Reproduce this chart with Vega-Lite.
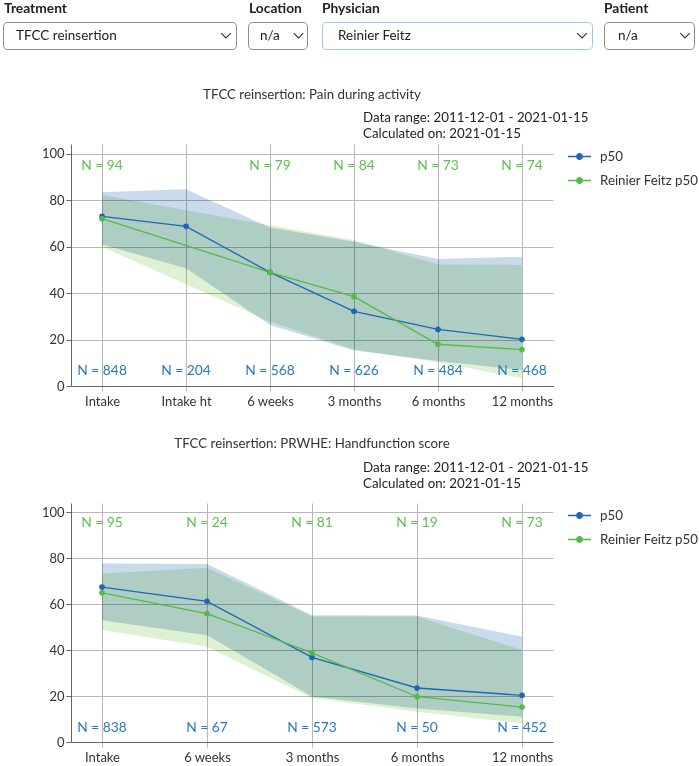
{
  "$schema": "https://vega.github.io/schema/vega-lite/v6.json",
  "background": "white",
  "padding": 0,
  "bounds": "flush",
  "spacing": 117,
  "config": {
    "font": "Lato",
    "view": {"stroke": null},
    "axis": {"labelFont": "Lato", "labelFontSize": 13, "labelColor": "#333333", "gridColor": "#b8b8b8", "tickColor": "#b8b8b8", "domainColor": "#666666", "tickSize": 5},
    "title": {"font": "Lato", "fontSize": 13.3, "fontWeight": "normal", "color": "#333333"},
    "text": {"font": "Lato", "fontSize": 13.3},
    "legend": {"labelFont": "Lato", "labelFontSize": 13.3, "labelColor": "#333333"}
  },
  "resolve": {"scale": {"color": "independent"}},
  "vconcat": [
    {
      "width": 628,
      "height": 27,
      "layer": [
        {
          "data": {"values": [{"region": "page"}]},
          "mark": {"type": "rect", "fill": "white"},
          "encoding": {
            "x": {"datum": 0, "type": "quantitative", "scale": {"domain": [71, 699], "nice": false, "zero": false}, "axis": null},
            "x2": {"datum": 699},
            "y": {"datum": 0, "type": "quantitative", "scale": {"domain": [0, 27], "nice": false, "zero": false, "reverse": true}, "axis": null},
            "y2": {"datum": 60}
          }
        },
        {
          "data": {"values": [{"label": "Treatment", "selected": "TFCC reinsertion"}]},
          "layer": [
            {"mark": {"type": "rect", "fill": "white", "stroke": "#8c8c8c", "strokeWidth": 1, "cornerRadius": 4},
             "encoding": {"x": {"datum": 3.5, "axis": null}, "x2": {"datum": 236.5}, "y": {"datum": 22.5, "axis": null}, "y2": {"datum": 49.5}}},
            {"mark": {"type": "text", "align": "left", "baseline": "middle", "fontWeight": "bold", "fontSize": 13.8, "color": "#222222"},
             "encoding": {"x": {"datum": 4, "axis": null}, "y": {"datum": 9, "axis": null}, "text": {"field": "label"}}},
            {"mark": {"type": "text", "align": "left", "baseline": "middle", "fontSize": 13.5, "color": "#222222"},
             "encoding": {"x": {"datum": 16, "axis": null}, "y": {"datum": 36, "axis": null}, "text": {"field": "selected"}}},
            {"mark": {"type": "point", "shape": "M-1,-0.5L0,0.5L1,-0.5", "size": 90, "filled": false, "stroke": "#333333", "strokeWidth": 1.1, "opacity": 1},
             "encoding": {"x": {"datum": 226, "axis": null}, "y": {"datum": 35.5, "axis": null}}}
          ]
        },
        {
          "data": {"values": [{"label": "Location", "selected": "n/a"}]},
          "layer": [
            {"mark": {"type": "rect", "fill": "white", "stroke": "#8c8c8c", "strokeWidth": 1, "cornerRadius": 4},
             "encoding": {"x": {"datum": 248.5, "axis": null}, "x2": {"datum": 307.5}, "y": {"datum": 22.5, "axis": null}, "y2": {"datum": 49.5}}},
            {"mark": {"type": "text", "align": "left", "baseline": "middle", "fontWeight": "bold", "fontSize": 13.8, "color": "#222222"},
             "encoding": {"x": {"datum": 249, "axis": null}, "y": {"datum": 9, "axis": null}, "text": {"field": "label"}}},
            {"mark": {"type": "text", "align": "left", "baseline": "middle", "fontSize": 13.5, "color": "#222222"},
             "encoding": {"x": {"datum": 260, "axis": null}, "y": {"datum": 36, "axis": null}, "text": {"field": "selected"}}},
            {"mark": {"type": "point", "shape": "M-1,-0.5L0,0.5L1,-0.5", "size": 90, "filled": false, "stroke": "#333333", "strokeWidth": 1.1, "opacity": 1},
             "encoding": {"x": {"datum": 298.5, "axis": null}, "y": {"datum": 35.5, "axis": null}}}
          ]
        },
        {
          "data": {"values": [{"label": "Physician", "selected": "Reinier Feitz"}]},
          "layer": [
            {"mark": {"type": "rect", "fill": "white", "stroke": "#9fc6ea", "strokeWidth": 1, "cornerRadius": 4},
             "encoding": {"x": {"datum": 322.5, "axis": null}, "x2": {"datum": 592.5}, "y": {"datum": 22.5, "axis": null}, "y2": {"datum": 49.5}}},
            {"mark": {"type": "text", "align": "left", "baseline": "middle", "fontWeight": "bold", "fontSize": 13.8, "color": "#222222"},
             "encoding": {"x": {"datum": 322, "axis": null}, "y": {"datum": 9, "axis": null}, "text": {"field": "label"}}},
            {"mark": {"type": "text", "align": "left", "baseline": "middle", "fontSize": 13.5, "color": "#222222"},
             "encoding": {"x": {"datum": 338, "axis": null}, "y": {"datum": 36, "axis": null}, "text": {"field": "selected"}}},
            {"mark": {"type": "point", "shape": "M-1,-0.5L0,0.5L1,-0.5", "size": 90, "filled": false, "stroke": "#333333", "strokeWidth": 1.1, "opacity": 1},
             "encoding": {"x": {"datum": 582, "axis": null}, "y": {"datum": 35.5, "axis": null}}}
          ]
        },
        {
          "data": {"values": [{"label": "Patient", "selected": "n/a"}]},
          "layer": [
            {"mark": {"type": "rect", "fill": "white", "stroke": "#8c8c8c", "strokeWidth": 1, "cornerRadius": 4},
             "encoding": {"x": {"datum": 604.5, "axis": null}, "x2": {"datum": 694.5}, "y": {"datum": 22.5, "axis": null}, "y2": {"datum": 49.5}}},
            {"mark": {"type": "text", "align": "left", "baseline": "middle", "fontWeight": "bold", "fontSize": 13.8, "color": "#222222"},
             "encoding": {"x": {"datum": 604, "axis": null}, "y": {"datum": 9, "axis": null}, "text": {"field": "label"}}},
            {"mark": {"type": "text", "align": "left", "baseline": "middle", "fontSize": 13.5, "color": "#222222"},
             "encoding": {"x": {"datum": 618, "axis": null}, "y": {"datum": 36, "axis": null}, "text": {"field": "selected"}}},
            {"mark": {"type": "point", "shape": "M-1,-0.5L0,0.5L1,-0.5", "size": 90, "filled": false, "stroke": "#333333", "strokeWidth": 1.1, "opacity": 1},
             "encoding": {"x": {"datum": 685, "axis": null}, "y": {"datum": 35.5, "axis": null}}}
          ]
        }
      ]
    },
    {
      "width": 482,
      "height": 242,
      "title": {"text": "TFCC reinsertion: Pain during activity", "anchor": "middle", "frame": "group", "offset": 10},
      "data": {"values": [
        {"timepoint": "Intake", "series": "p50", "p50": 73.1, "lo": 61.0, "hi": 83.5, "n": 848},
        {"timepoint": "Intake ht", "series": "p50", "p50": 68.8, "lo": 50.7, "hi": 84.8, "n": 204},
        {"timepoint": "6 weeks", "series": "p50", "p50": 49.0, "lo": 26.3, "hi": 68.3, "n": 568},
        {"timepoint": "3 months", "series": "p50", "p50": 32.2, "lo": 15.3, "hi": 62.2, "n": 626},
        {"timepoint": "6 months", "series": "p50", "p50": 24.4, "lo": 10.8, "hi": 54.7, "n": 484},
        {"timepoint": "12 months", "series": "p50", "p50": 20.1, "lo": 6.9, "hi": 55.7, "n": 468},
        {"timepoint": "Intake", "series": "Reinier Feitz p50", "p50": 72.1, "lo": 60.0, "hi": 82.3, "n": 94},
        {"timepoint": "6 weeks", "series": "Reinier Feitz p50", "p50": 49.0, "lo": 27.7, "hi": 69.3, "n": 79},
        {"timepoint": "3 months", "series": "Reinier Feitz p50", "p50": 38.5, "lo": 15.8, "hi": 62.9, "n": 84},
        {"timepoint": "6 months", "series": "Reinier Feitz p50", "p50": 18.0, "lo": 10.2, "hi": 52.4, "n": 73},
        {"timepoint": "12 months", "series": "Reinier Feitz p50", "p50": 15.7, "lo": 3.3, "hi": 52.2, "n": 74}
      ]},
      "layer": [
        {
          "transform": [{"filter": "datum.series === 'p50'"}],
          "mark": {"type": "area", "color": "#c8daec", "opacity": 1, "blend": "multiply"},
          "encoding": {
            "x": {"field": "timepoint", "type": "ordinal", "sort": ["Intake", "Intake ht", "6 weeks", "3 months", "6 months", "12 months"], "scale": {"type": "point", "padding": 0.37}, "axis": {"title": null, "grid": true, "labelAngle": 0, "labelPadding": 4, "domainColor": "#666666"}},
            "y": {"field": "lo", "type": "quantitative", "scale": {"domain": [0, 104.3], "nice": false}, "axis": {"title": null, "values": [0, 20, 40, 60, 80, 100], "grid": true, "labelPadding": 2, "tickColor": "#666666"}},
            "y2": {"field": "hi"}
          }
        },
        {
          "transform": [{"filter": "datum.series !== 'p50'"}],
          "mark": {"type": "area", "color": "#def1d3", "opacity": 1, "blend": "multiply"},
          "encoding": {
            "x": {"field": "timepoint", "type": "ordinal", "sort": ["Intake", "Intake ht", "6 weeks", "3 months", "6 months", "12 months"]},
            "y": {"field": "lo", "type": "quantitative"},
            "y2": {"field": "hi"}
          }
        },
        {
          "mark": {"type": "line", "strokeWidth": 1.3},
          "encoding": {
            "x": {"field": "timepoint", "type": "ordinal", "sort": ["Intake", "Intake ht", "6 weeks", "3 months", "6 months", "12 months"]},
            "y": {"field": "p50", "type": "quantitative"},
            "color": {"field": "series", "type": "nominal", "scale": {"domain": ["p50", "Reinier Feitz p50"], "range": ["#1f66b7", "#55b949"]},
              "legend": {"title": null, "orient": "none", "legendX": 496, "legendY": 0, "symbolType": "M-1,0L1,0M0.26,0L0.184,0.184L0,0.26L-0.184,0.184L-0.26,0L-0.184,-0.184L0,-0.26L0.184,-0.184Z", "symbolSize": 529, "symbolStrokeWidth": 1.3, "labelOffset": 8, "rowPadding": 5,
                "encode": {"symbols": {"update": {"fill": {"signal": "datum.value === 'p50' ? '#1f66b7' : '#55b949'"}, "stroke": {"signal": "datum.value === 'p50' ? '#1f66b7' : '#55b949'"}, "opacity": {"value": 1}}}}}}
          }
        },
        {
          "mark": {"type": "point", "filled": true, "size": 32, "opacity": 1},
          "encoding": {
            "x": {"field": "timepoint", "type": "ordinal", "sort": ["Intake", "Intake ht", "6 weeks", "3 months", "6 months", "12 months"]},
            "y": {"field": "p50", "type": "quantitative"},
            "color": {"field": "series", "type": "nominal", "legend": null}
          }
        },
        {
          "transform": [{"filter": "datum.series === 'p50'"}],
          "mark": {"type": "text", "baseline": "middle", "fontSize": 13.8, "color": "#2a78c4", "text": {"expr": "'N = ' + datum.n"}},
          "encoding": {
            "x": {"field": "timepoint", "type": "ordinal", "sort": ["Intake", "Intake ht", "6 weeks", "3 months", "6 months", "12 months"]},
            "y": {"datum": 6.5}
          }
        },
        {
          "transform": [{"filter": "datum.series !== 'p50'"}],
          "mark": {"type": "text", "baseline": "middle", "fontSize": 13.8, "color": "#5cbf50", "text": {"expr": "'N = ' + datum.n"}},
          "encoding": {
            "x": {"field": "timepoint", "type": "ordinal", "sort": ["Intake", "Intake ht", "6 weeks", "3 months", "6 months", "12 months"]},
            "y": {"datum": 94.8}
          }
        },
        {
          "data": {"values": [{"info": "Data range: 2011-12-01 - 2021-01-15"}]},
          "mark": {"type": "text", "align": "left", "baseline": "middle", "dx": 51, "color": "#222222"},
          "encoding": {"y": {"datum": 115.5}, "text": {"field": "info"}}
        },
        {
          "data": {"values": [{"info": "Calculated on: 2021-01-15"}]},
          "mark": {"type": "text", "align": "left", "baseline": "middle", "dx": 51, "color": "#222222"},
          "encoding": {"y": {"datum": 108.6}, "text": {"field": "info"}}
        }
      ]
    },
    {
      "width": 482,
      "height": 239,
      "title": {"text": "TFCC reinsertion: PRWHE: Handfunction score", "anchor": "middle", "frame": "group", "offset": 11},
      "data": {"values": [
        {"timepoint": "Intake", "series": "p50", "p50": 67.4, "lo": 53.0, "hi": 77.7, "n": 838},
        {"timepoint": "6 weeks", "series": "p50", "p50": 61.2, "lo": 46.5, "hi": 77.5, "n": 67},
        {"timepoint": "3 months", "series": "p50", "p50": 36.8, "lo": 19.8, "hi": 55.2, "n": 573},
        {"timepoint": "6 months", "series": "p50", "p50": 23.5, "lo": 14.6, "hi": 55.0, "n": 50},
        {"timepoint": "12 months", "series": "p50", "p50": 20.3, "lo": 11.0, "hi": 45.8, "n": 452},
        {"timepoint": "Intake", "series": "Reinier Feitz p50", "p50": 64.9, "lo": 48.7, "hi": 73.3, "n": 95},
        {"timepoint": "6 weeks", "series": "Reinier Feitz p50", "p50": 55.9, "lo": 41.4, "hi": 75.8, "n": 24},
        {"timepoint": "3 months", "series": "Reinier Feitz p50", "p50": 38.8, "lo": 19.2, "hi": 54.6, "n": 81},
        {"timepoint": "6 months", "series": "Reinier Feitz p50", "p50": 19.7, "lo": 13.2, "hi": 54.6, "n": 19},
        {"timepoint": "12 months", "series": "Reinier Feitz p50", "p50": 15.2, "lo": 8.1, "hi": 40.0, "n": 73}
      ]},
      "layer": [
        {
          "transform": [{"filter": "datum.series === 'p50'"}],
          "mark": {"type": "area", "color": "#c8daec", "opacity": 1, "blend": "multiply"},
          "encoding": {
            "x": {"field": "timepoint", "type": "ordinal", "sort": ["Intake", "6 weeks", "3 months", "6 months", "12 months"], "scale": {"type": "point", "padding": 0.295}, "axis": {"title": null, "grid": true, "labelAngle": 0, "labelPadding": 4, "domainColor": "#666666"}},
            "y": {"field": "lo", "type": "quantitative", "scale": {"domain": [0, 104], "nice": false}, "axis": {"title": null, "values": [0, 20, 40, 60, 80, 100], "grid": true, "labelPadding": 2, "tickColor": "#666666"}},
            "y2": {"field": "hi"}
          }
        },
        {
          "transform": [{"filter": "datum.series !== 'p50'"}],
          "mark": {"type": "area", "color": "#def1d3", "opacity": 1, "blend": "multiply"},
          "encoding": {
            "x": {"field": "timepoint", "type": "ordinal", "sort": ["Intake", "6 weeks", "3 months", "6 months", "12 months"]},
            "y": {"field": "lo", "type": "quantitative"},
            "y2": {"field": "hi"}
          }
        },
        {
          "mark": {"type": "line", "strokeWidth": 1.3},
          "encoding": {
            "x": {"field": "timepoint", "type": "ordinal", "sort": ["Intake", "6 weeks", "3 months", "6 months", "12 months"]},
            "y": {"field": "p50", "type": "quantitative"},
            "color": {"field": "series", "type": "nominal", "scale": {"domain": ["p50", "Reinier Feitz p50"], "range": ["#1f66b7", "#55b949"]},
              "legend": {"title": null, "orient": "none", "legendX": 496, "legendY": 0, "symbolType": "M-1,0L1,0M0.26,0L0.184,0.184L0,0.26L-0.184,0.184L-0.26,0L-0.184,-0.184L0,-0.26L0.184,-0.184Z", "symbolSize": 529, "symbolStrokeWidth": 1.3, "labelOffset": 8, "rowPadding": 5,
                "encode": {"symbols": {"update": {"fill": {"signal": "datum.value === 'p50' ? '#1f66b7' : '#55b949'"}, "stroke": {"signal": "datum.value === 'p50' ? '#1f66b7' : '#55b949'"}, "opacity": {"value": 1}}}}}}
          }
        },
        {
          "mark": {"type": "point", "filled": true, "size": 32, "opacity": 1},
          "encoding": {
            "x": {"field": "timepoint", "type": "ordinal", "sort": ["Intake", "6 weeks", "3 months", "6 months", "12 months"]},
            "y": {"field": "p50", "type": "quantitative"},
            "color": {"field": "series", "type": "nominal", "legend": null}
          }
        },
        {
          "transform": [{"filter": "datum.series === 'p50'"}],
          "mark": {"type": "text", "baseline": "middle", "fontSize": 13.8, "color": "#2a78c4", "text": {"expr": "'N = ' + datum.n"}},
          "encoding": {
            "x": {"field": "timepoint", "type": "ordinal", "sort": ["Intake", "6 weeks", "3 months", "6 months", "12 months"]},
            "y": {"datum": 5.9}
          }
        },
        {
          "transform": [{"filter": "datum.series !== 'p50'"}],
          "mark": {"type": "text", "baseline": "middle", "fontSize": 13.8, "color": "#5cbf50", "text": {"expr": "'N = ' + datum.n"}},
          "encoding": {
            "x": {"field": "timepoint", "type": "ordinal", "sort": ["Intake", "6 weeks", "3 months", "6 months", "12 months"]},
            "y": {"datum": 95.1}
          }
        },
        {
          "data": {"values": [{"info": "Data range: 2011-12-01 - 2021-01-15"}]},
          "mark": {"type": "text", "align": "left", "baseline": "middle", "dx": 51, "color": "#222222"},
          "encoding": {"y": {"datum": 119.1}, "text": {"field": "info"}}
        },
        {
          "data": {"values": [{"info": "Calculated on: 2021-01-15"}]},
          "mark": {"type": "text", "align": "left", "baseline": "middle", "dx": 51, "color": "#222222"},
          "encoding": {"y": {"datum": 112.2}, "text": {"field": "info"}}
        }
      ]
    }
  ]
}
